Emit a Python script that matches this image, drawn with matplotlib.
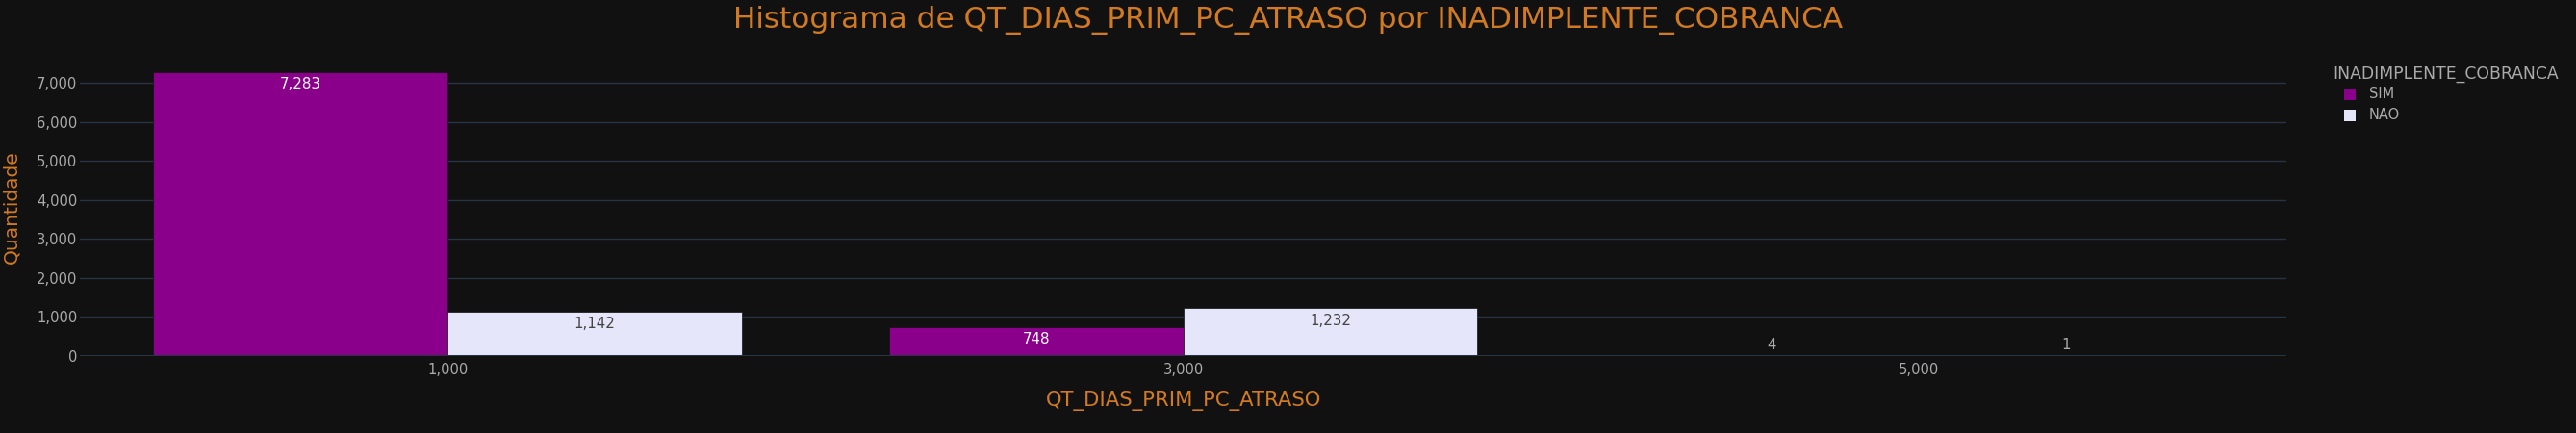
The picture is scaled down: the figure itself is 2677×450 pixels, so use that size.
import matplotlib
matplotlib.use("Agg")
import matplotlib.pyplot as plt
from matplotlib.patches import Rectangle
from matplotlib.ticker import FuncFormatter

# ---- data ----
bin_centers = [1000, 3000, 5000]
bin_width = 2000
series_names = ["SIM", "NAO"]
sim_counts = [7283, 748, 4]
nao_counts = [1142, 1232, 1]
x_ticks = [1000, 3000, 5000]
y_ticks = [0, 1000, 2000, 3000, 4000, 5000, 6000, 7000]

title = "Histograma de QT_DIAS_PRIM_PC_ATRASO por INADIMPLENTE_COBRANCA"
xlabel = "QT_DIAS_PRIM_PC_ATRASO"
ylabel = "Quantidade"
legend_title = "INADIMPLENTE_COBRANCA"

# ---- style ----
BG = "#111111"
GRID = "#283442"
ORANGE = "#d17a22"
TICK = "#aaaaaa"
colors = {"SIM": "#8b008b", "NAO": "#e6e6fa"}
inside_text = {"SIM": "#ffffff", "NAO": "#444444"}

plt.rcParams["font.family"] = ["DejaVu Sans"]

W, H = 2677, 450
fig = plt.figure(figsize=(W / 100, H / 100), dpi=100, facecolor=BG)
ax = fig.add_axes([83 / W, 1 - 370 / H, (2376 - 83) / W, (370 - 59) / H])
ax.set_facecolor(BG)

bargap = 0.2
group_w = bin_width * (1 - bargap)
bar_w = group_w / len(series_names)

ymax = 7666
px_per_unit = (370 - 59) / ymax

for i, (name, vals) in enumerate(zip(series_names, [sim_counts, nao_counts])):
    offs = -group_w / 2 + bar_w * (i + 0.5)
    xs = [c + offs for c in bin_centers]
    ax.bar(xs, vals, width=bar_w, color=colors[name], edgecolor=BG,
           linewidth=0.5, zorder=3)
    for x, v in zip(xs, vals):
        label = f"{v:,}"
        if v * px_per_unit > 22:
            ax.annotate(label, xy=(x, v), xytext=(0, -4), textcoords="offset points",
                        ha="center", va="top", fontsize=10.8, color=inside_text[name],
                        zorder=4)
        else:
            ax.annotate(label, xy=(x, v), xytext=(0, 3), textcoords="offset points",
                        ha="center", va="bottom", fontsize=10.8, color=TICK, zorder=4)

ax.set_xlim(0, 6000)
ax.set_ylim(0, ymax)
ax.set_xticks(x_ticks)
ax.set_yticks(y_ticks)
fmt = FuncFormatter(lambda v, p: f"{int(v):,}")
ax.xaxis.set_major_formatter(fmt)
ax.yaxis.set_major_formatter(fmt)
ax.tick_params(axis="both", colors=TICK, labelsize=10.6, length=0)
ax.tick_params(axis="x", pad=5)
ax.tick_params(axis="y", pad=2)
ax.grid(axis="y", color=GRID, linewidth=1, zorder=0)
ax.axhline(0, color=GRID, linewidth=2.2, zorder=5)
for s in ax.spines.values():
    s.set_visible(False)

ax.set_xlabel(xlabel, color=ORANGE, fontsize=15.2, labelpad=10)
fig.text(12 / W, 1 - 215 / H, ylabel, color=ORANGE, fontsize=14.5,
         rotation=90, ha="center", va="center")

fig.text(0.5, 1 - 21 / H, title, color=ORANGE, fontsize=22.4,
         ha="center", va="center")

# legend
fig.text(2424 / W, 1 - 77 / H, legend_title, color=TICK, fontsize=12.4,
         ha="left", va="center")
for j, name in enumerate(series_names):
    yc = 98 + j * 21.5
    fig.patches.append(Rectangle((2436 / W, 1 - (yc + 6) / H), 12 / W, 12 / H,
                                 transform=fig.transFigure, facecolor=colors[name],
                                 edgecolor="none"))
    fig.text(2462 / W, 1 - yc / H, name, color=TICK, fontsize=10.5,
             ha="left", va="center")

fig.savefig("out.png", dpi=100, facecolor=BG)
